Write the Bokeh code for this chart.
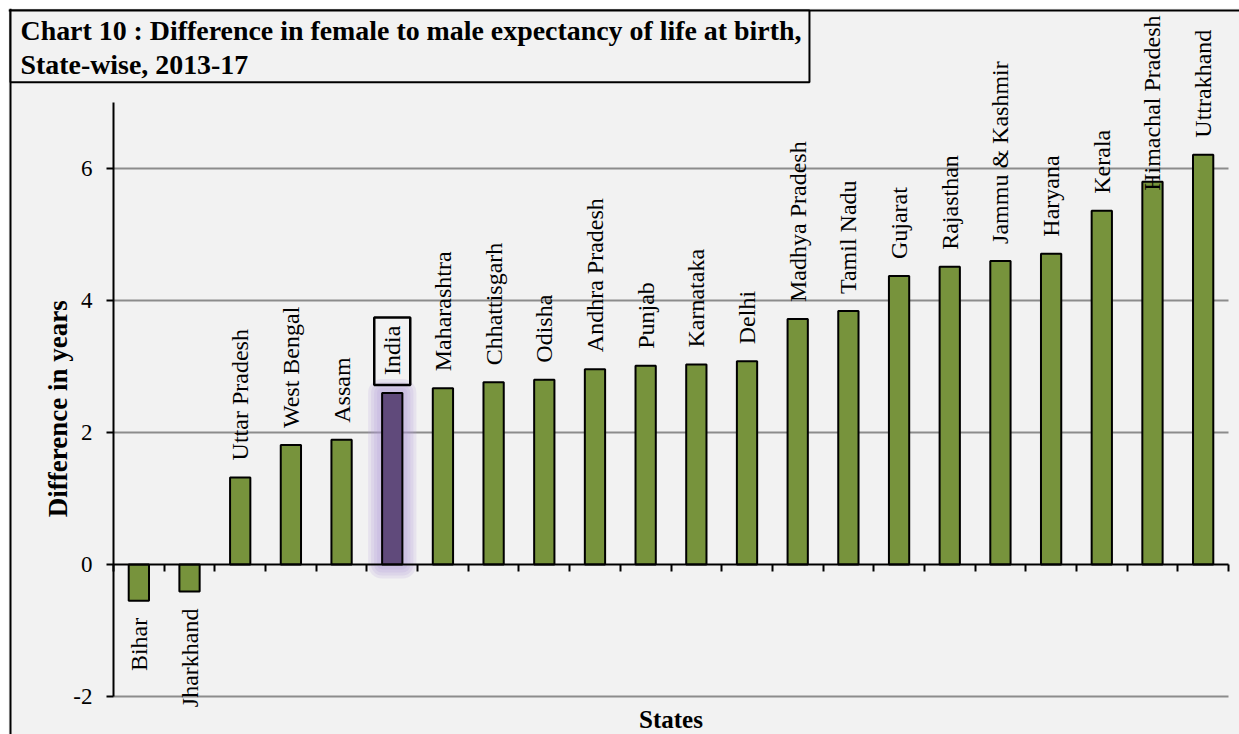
import math
from bokeh.plotting import figure
from bokeh.models import ColumnDataSource, Range1d, FixedTicker, Label, Span
from bokeh.core.properties import value
from bokeh.embed import file_html
from bokeh.resources import INLINE

# ---------------- data ----------------
states = ["Bihar", "Jharkhand", "Uttar Pradesh", "West Bengal", "Assam", "India",
          "Maharashtra", "Chhattisgarh", "Odisha", "Andhra Pradesh", "Punjab",
          "Karnataka", "Delhi", "Madhya Pradesh", "Tamil Nadu", "Gujarat",
          "Rajasthan", "Jammu & Kashmir", "Haryana", "Kerala", "Himachal Pradesh",
          "Uttrakhand"]
diff = [-0.55, -0.41, 1.32, 1.81, 1.89, 2.60, 2.67, 2.76, 2.80, 2.96, 3.01,
        3.03, 3.08, 3.72, 3.84, 4.37, 4.51, 4.60, 4.71, 5.36, 5.80, 6.21]
highlight = "India"
y_ticks = [-2, 0, 2, 4, 6]
grid_ticks = [-2, 2, 4, 6]
y_axis_bounds = (-2, 7)
title_text = "Chart 10 : Difference in female to male expectancy of life at birth,\nState-wise, 2013-17"
y_title = "Difference in years"
x_title = "States"

# ---------------- styling / layout ----------------
SERIF = "Liberation Serif"
GREEN = "#77933C"
PURPLE = "#604A7B"
GLOW = "#B49BD6"
BG = "#F2F2F2"

W, H = 1231, 726
n = len(states)
PXU_X = 1115 / n          # pixels per category
PXU_Y = 66.0              # pixels per year
LEFT_PX, RIGHT_PX = 105, 11
TOP_PX, BOTTOM_PX = 94, 38
X0, X1 = -LEFT_PX / PXU_X, n + RIGHT_PX / PXU_X
Y1 = y_axis_bounds[1] + TOP_PX / PXU_Y
Y0 = y_axis_bounds[0] - BOTTOM_PX / PXU_Y
LABEL_FS = 24
GAP = 17

xs = [i + 0.5 for i in range(n)]
colors = [PURPLE if s == highlight else GREEN for s in states]

# label anchors derived from values (clamped so that each text fits inside the chart)
lab_y, lab_align, lab_off = [], [], []
for s, v in zip(states, diff):
    if v >= 0:
        text_len_px = len(s) * 0.4565 * LABEL_FS
        y_max = Y1 - (7 + text_len_px + GAP) / PXU_Y
        lab_y.append(min(v, y_max))
        lab_align.append("left")
        lab_off.append(-GAP)
    else:
        lab_y.append(v)
        lab_align.append("right")
        lab_off.append(GAP)

src = ColumnDataSource(dict(x=xs, top=diff, color=colors))
hi = [i for i, s in enumerate(states) if s == highlight]
rest = [i for i, s in enumerate(states) if s != highlight]
src_hi = ColumnDataSource(dict(x=[xs[i] for i in hi], top=[diff[i] for i in hi],
                               name=[states[i] for i in hi], ly=[lab_y[i] for i in hi]))
src_rest = ColumnDataSource(dict(x=[xs[i] for i in rest], ly=[lab_y[i] for i in rest],
                                 name=[states[i] for i in rest],
                                 align=[lab_align[i] for i in rest],
                                 off=[lab_off[i] for i in rest]))
src_grid = ColumnDataSource(dict(y=grid_ticks, x0=[0] * len(grid_ticks),
                                 x1=[n] * len(grid_ticks)))

p = figure(width=W, height=H, x_range=Range1d(X0, X1), y_range=Range1d(Y0, Y1),
           output_backend="svg", toolbar_location=None,
           min_border_left=0, min_border_right=0, min_border_top=0, min_border_bottom=0)
p.margin = (8, 0, 0, 8)
p.background_fill_color = BG
p.border_fill_color = BG
p.outline_line_color = None
p.xgrid.visible = False
p.ygrid.visible = False

# horizontal gridlines across the category area
p.segment(x0="x0", x1="x1", y0="y", y1="y", source=src_grid,
          line_color="#8C8C8C", line_width=2)

# glow behind the highlighted bar
for lw in (28, 22, 16, 10):
    p.vbar(x="x", top="top", bottom=0, width=0.4, source=src_hi,
           fill_alpha=0.0, line_color=GLOW, line_alpha=0.18,
           line_width=lw, line_join="round")

# bars
p.vbar(x="x", top="top", bottom=0, width=0.4, source=src,
       fill_color="color", line_color="black", line_width=2)

# bar labels
p.text(x="x", y="ly", text="name", source=src_rest, angle=math.pi / 2,
       text_align="align", text_baseline="middle", y_offset="off",
       text_font=value(SERIF), text_font_size=f"{LABEL_FS}px", text_color="black")
p.text(x="x", y="ly", text="name", source=src_hi, angle=math.pi / 2,
       text_align="left", text_baseline="middle", y_offset=-8,
       text_font=value(SERIF), text_font_size=f"{LABEL_FS}px", text_color="black",
       border_line_color="black", border_line_width=2.5,
       padding=dict(left=10, right=8, top=5, bottom=5))

# x axis drawn at zero
xa = p.xaxis[0]
xa.fixed_location = 0
xa.bounds = (0, n)
xa.ticker = FixedTicker(ticks=list(range(n + 1)))
xa.major_label_text_font_size = "0px"
xa.major_label_text_color = None
xa.major_tick_in = 0
xa.major_tick_out = 7
xa.major_tick_line_width = 2
xa.minor_tick_line_color = None
xa.axis_line_width = 2
xa.axis_line_color = "black"

# y axis at the left edge of the category area
ya = p.yaxis[0]
ya.fixed_location = 0
ya.ticker = FixedTicker(ticks=y_ticks)
ya.major_label_overrides = {t: str(t) for t in y_ticks}
ya.bounds = y_axis_bounds
ya.axis_line_width = 2
ya.major_tick_in = 0
ya.major_tick_out = 7
ya.major_tick_line_width = 2
ya.minor_tick_line_color = None
ya.major_label_text_font = SERIF
ya.major_label_text_font_size = "23px"
ya.major_label_text_color = "black"
ya.major_label_standoff = 14

# y title
p.add_layout(Label(x=49, y=2.36, x_units="screen", text=y_title, angle=math.pi / 2,
                   text_align="center", text_baseline="middle", text_font=SERIF,
                   text_font_size="27px", text_font_style="bold", text_color="black"))

# x title
p.add_layout(Label(x=n / 2, y=2, y_units="screen", text=x_title, text_align="center",
                   text_baseline="bottom", text_font=SERIF, text_font_size="25px",
                   text_font_style="bold", text_color="black"))

# outer frame (left and top edges)
p.add_layout(Span(location=X0 + 2 / PXU_X, dimension="height",
                  line_color="black", line_width=2))
p.add_layout(Span(location=Y1 - 2 / PXU_Y, dimension="width",
                  line_color="black", line_width=2))

# title box
p.add_layout(Label(x=2, y=H - 2, x_units="screen", y_units="screen", text=title_text,
                   text_align="left", text_baseline="top", text_font=SERIF,
                   text_font_size="27.9px", text_font_style="bold", text_color="black",
                   text_line_height=1.12,
                   border_line_color="black", border_line_width=2,
                   background_fill_color=BG,
                   padding=dict(left=10, right=8, top=4, bottom=2)))

open("out.html", "w").write(file_html(p, INLINE))
